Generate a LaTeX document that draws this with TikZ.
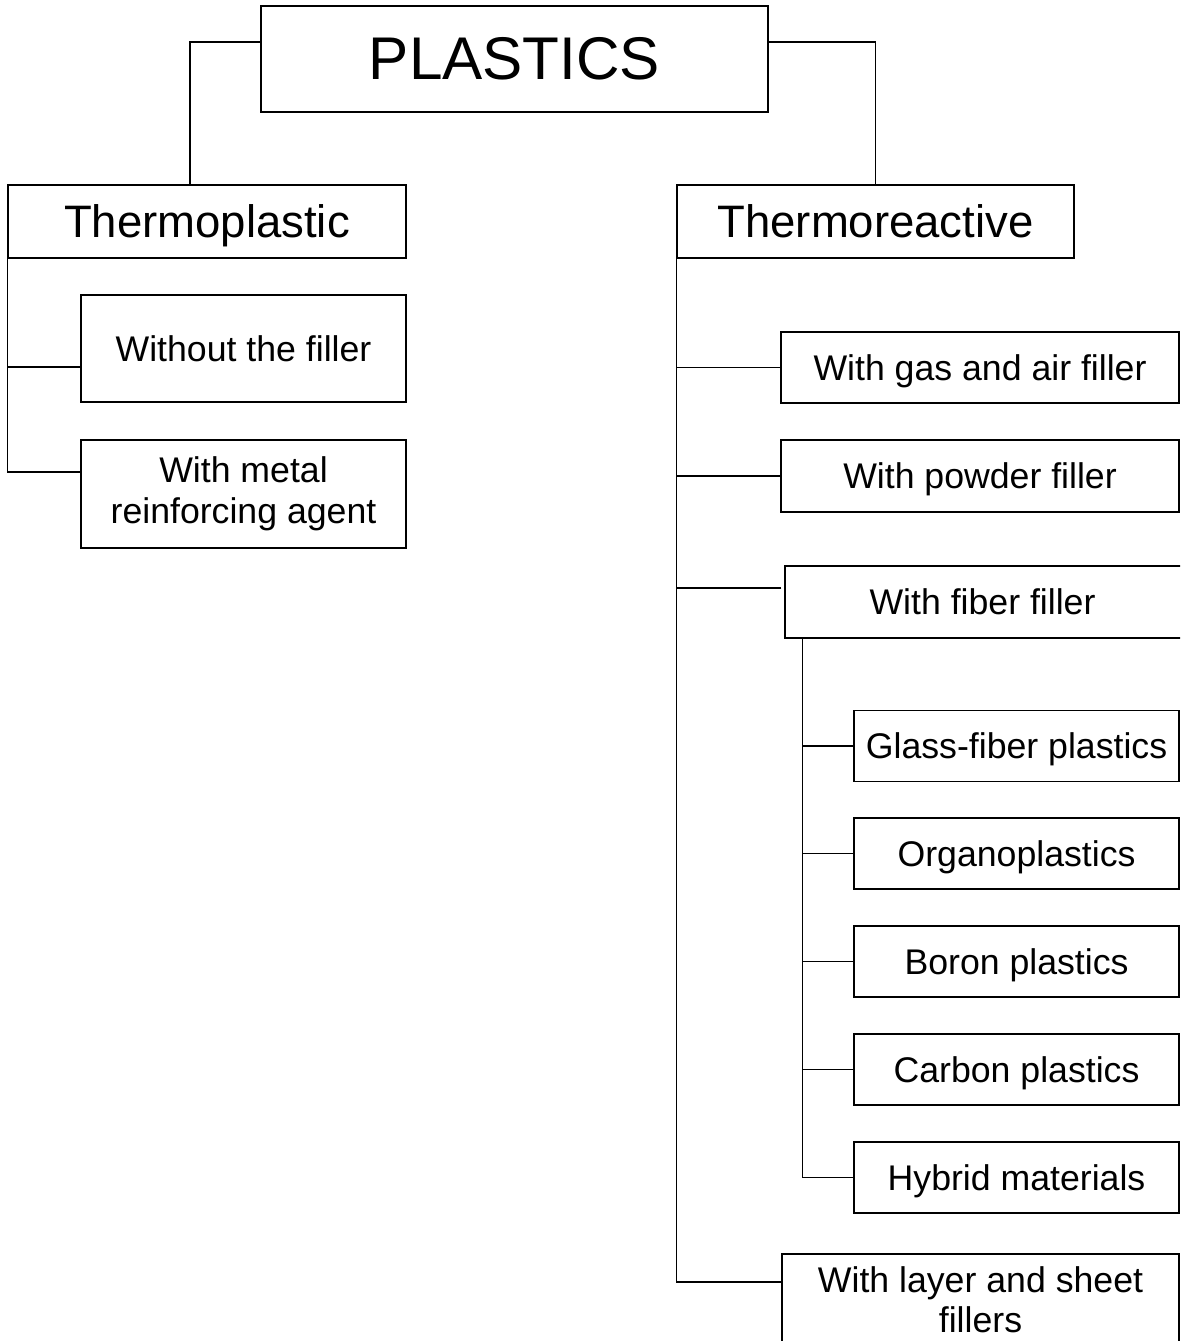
\documentclass[tikz,border=0pt]{standalone}
\usepackage{fontspec}
\setmainfont{Liberation Sans}
\tikzset{
  box/.style = {draw, line width=.75pt, inner sep=0pt, align=center},
  topbox/.style = {box, font=\fontsize{34.3}{40}\selectfont},
  kindbox/.style = {box, minimum height=1.46cm, text depth=0pt, font=\fontsize{25.9}{30}\selectfont},
  fillbox/.style = {box, font=\fontsize{20.3}{23.2}\selectfont},
  oneline/.style = {fillbox, text depth=0pt},
  subbox/.style = {oneline, minimum width=6.5cm, minimum height=1.42cm},
}
\begin{document}
\begin{tikzpicture}[x=.02cm, y=-.02cm, line width=.75pt]
      \useasboundingbox (0, 0) rectangle (1180, 1341);
      \clip (0, 0) rectangle (1180, 1341);
      % nodes
      \node[topbox, minimum width=10.14cm, minimum height=2.12cm] (plastics) at (514.5, 59) {PLASTICS};
      \node[kindbox, minimum width=7.96cm] (thermoplastic) at (207, 221.5) {Thermoplastic};
      \node[kindbox, minimum width=7.94cm] (thermoreactive) at (875.5, 221.5) {Thermoreactive};
      \node[oneline, minimum width=6.5cm, minimum height=2.14cm] (without) at (243.5, 348.5) {Without the filler};
      \node[fillbox, minimum width=6.5cm, minimum height=2.16cm] (metal) at (243.5, 494) {With metal\\reinforcing agent};
      \node[oneline, minimum width=7.96cm, minimum height=1.42cm] (gas) at (980, 367.5) {With gas and air filler};
      \node[oneline, minimum width=7.96cm, minimum height=1.44cm] (powder) at (980, 476) {With powder filler};
      \node[oneline, minimum width=8.1cm, minimum height=1.44cm] (fiber) at (987.5, 602) {\hspace*{-.2cm}With fiber filler};
      \node[subbox] (glass) at (1016.5, 746) {Glass-fiber plastics};
      \node[subbox] (organo) at (1016.5, 853.5) {Organoplastics};
      \node[subbox] (boron) at (1016.5, 961.5) {Boron plastics};
      \node[subbox] (carbon) at (1016.5, 1069.5) {Carbon plastics};
      \node[subbox] (hybrid) at (1016.5, 1177.5) {Hybrid materials};
      \node[fillbox, minimum width=7.94cm, minimum height=1.84cm, font=\fontsize{20.3}{22.8}\selectfont] (layer) at (980.5, 1300) {With layer and sheet\\fillers};
      \coordinate (fibtrunk) at ([xshift=.36cm]fiber.south west);
      % lines
      \draw ([yshift=.34cm]plastics.west) -| ([xshift=-.34cm]thermoplastic.north);
      \draw ([yshift=.34cm]plastics.east) -| (thermoreactive.north);
      \draw ([yshift=-.37cm]without.west) -| (thermoplastic.south west);
      \draw ([yshift=.44cm]metal.west) -| (thermoplastic.south west);
      \draw (thermoreactive.south west) |- ([yshift=.36cm]layer.west);
      \draw (gas.west) -- (gas.west -| thermoreactive.south west);
      \draw (powder.west) -- (powder.west -| thermoreactive.south west);
      \draw ([xshift=-.06cm, yshift=.28cm]fiber.west) -- ([yshift=.28cm]fiber.west -| thermoreactive.south west);
      \draw (fibtrunk) |- (hybrid.west);
      \foreach \n in {glass, organo, boron, carbon}
        \draw (\n.west) -- (\n.west -| fibtrunk);
    \end{tikzpicture}
\end{document}
